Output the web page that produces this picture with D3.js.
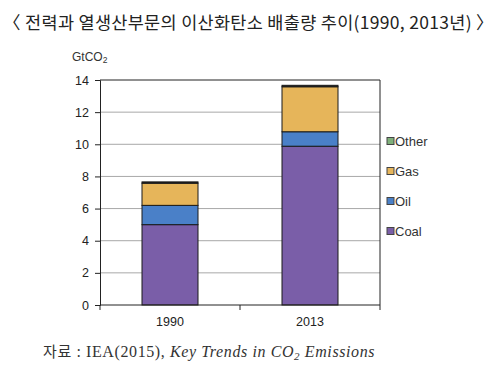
<!DOCTYPE html>
<html>
<head>
<meta charset="utf-8">
<script src="https://cdn.jsdelivr.net/npm/d3@7"></script>
<style>
  body { margin: 0; background: #fff; }
  svg { display: block; }
</style>
</head>
<body>
<div id="chart"></div>
<script>
// data
const years = ["1990", "2013"];
const series = ["Coal", "Oil", "Gas", "Other"];
const coal = [5.0, 9.88];
const oil = [1.2, 0.9];
const gas = [1.38, 2.8];
const other = [0.08, 0.09];
const yTicks = [0, 2, 4, 6, 8, 10, 12, 14];

const colors = { Coal: "#7a5ea8", Oil: "#4a80c8", Gas: "#e6b55a", Other: "#7fb07a" };

const width = 497, height = 365;
const margin = { top: 80, right: 117, bottom: 60, left: 100 };
const chartWidth = width - margin.left - margin.right;
const chartHeight = height - margin.top - margin.bottom;

const svg = d3.select("#chart").append("svg")
  .attr("width", width)
  .attr("height", height);

// title
svg.append("text")
  .attr("x", width / 2)
  .attr("y", 29)
  .attr("text-anchor", "middle")
  .attr("font-family", "'Noto Sans CJK KR', sans-serif")
  .attr("font-size", "17.5px")
  .attr("letter-spacing", "0.3px")
  .attr("fill", "#222")
  .text("〈 전력과 열생산부문의 이산화탄소 배출량 추이(1990, 2013년) 〉");

// unit label
const unit = svg.append("text")
  .attr("x", 72)
  .attr("y", 61)
  .attr("font-family", "'Liberation Sans', Arial, sans-serif")
  .attr("font-size", "12px")
  .attr("fill", "#333");
unit.append("tspan").text("GtCO");
unit.append("tspan").attr("font-size", "8.5px").attr("dy", 2).text("2");

const chart = svg.append("g")
  .attr("transform", `translate(${margin.left}, ${margin.top})`);

const xScale = d3.scaleBand().domain(years).range([0, chartWidth]).paddingInner(0.6).paddingOuter(0.3);
const yScale = d3.scaleLinear().domain([0, 14]).range([chartHeight, 0]);

// grid
chart.selectAll(".grid")
  .data(yTicks.filter(d => d > 0 && d < 14))
  .enter().append("line")
  .attr("class", "grid")
  .attr("x1", 0).attr("x2", chartWidth)
  .attr("y1", d => yScale(d)).attr("y2", d => yScale(d))
  .attr("stroke", "#a8a8a8")
  .attr("stroke-width", 1);

// stacked bars
const rows = years.map((y, i) => ({ year: y, Coal: coal[i], Oil: oil[i], Gas: gas[i], Other: other[i] }));
const stacked = d3.stack().keys(series)(rows);

chart.selectAll(".layer")
  .data(stacked)
  .enter().append("g")
  .attr("class", "layer")
  .attr("fill", d => d.key === "Other" ? "#222" : colors[d.key])
  .selectAll("rect")
  .data(d => d)
  .enter().append("rect")
  .attr("x", d => xScale(d.data.year))
  .attr("y", d => yScale(d[1]))
  .attr("width", xScale.bandwidth())
  .attr("height", d => yScale(d[0]) - yScale(d[1]))
  .attr("stroke", "#1a1a1a")
  .attr("stroke-width", 1);

// plot border (top + right)
chart.append("path")
  .attr("d", `M0,0H${chartWidth}V${chartHeight}`)
  .attr("fill", "none")
  .attr("stroke", "#222")
  .attr("stroke-width", 1);

// y axis
const yAxis = chart.append("g")
  .call(d3.axisLeft(yScale).tickValues(yTicks).tickSize(5).tickPadding(6));
yAxis.select(".domain").attr("stroke", "#222");
yAxis.selectAll(".tick line").attr("stroke", "#222");
yAxis.selectAll("text")
  .attr("font-family", "'Liberation Sans', Arial, sans-serif")
  .attr("font-size", "12.5px")
  .attr("fill", "#222");

// x axis with tick marks between categories
const xAxis = chart.append("g")
  .attr("transform", `translate(0, ${chartHeight})`);
xAxis.append("line")
  .attr("x1", 0).attr("x2", chartWidth)
  .attr("stroke", "#222");
xAxis.selectAll(".xtick")
  .data([0, chartWidth / 2, chartWidth])
  .enter().append("line")
  .attr("x1", d => d).attr("x2", d => d)
  .attr("y1", 0).attr("y2", 5)
  .attr("stroke", "#222");
xAxis.selectAll(".xlabel")
  .data(years)
  .enter().append("text")
  .attr("x", d => xScale(d) + xScale.bandwidth() / 2)
  .attr("y", 21)
  .attr("text-anchor", "middle")
  .attr("font-family", "'Liberation Sans', Arial, sans-serif")
  .attr("font-size", "12.5px")
  .attr("fill", "#222")
  .text(d => d);

// legend
const legendItems = series.slice().reverse();
const legend = svg.append("g")
  .attr("transform", "translate(387, 141)");
const item = legend.selectAll(".item")
  .data(legendItems)
  .enter().append("g")
  .attr("transform", (d, i) => `translate(0, ${i * 30})`);
item.append("rect")
  .attr("x", 0).attr("y", -3.5)
  .attr("width", 7).attr("height", 7)
  .attr("fill", d => colors[d])
  .attr("stroke", "#444")
  .attr("stroke-width", 1);
item.append("text")
  .attr("x", 8)
  .attr("y", 5)
  .attr("font-family", "'Liberation Sans', Arial, sans-serif")
  .attr("font-size", "13px")
  .attr("fill", "#333")
  .text(d => d);

// source note
const note = svg.append("text")
  .attr("x", 43)
  .attr("y", 357)
  .attr("font-family", "'Liberation Serif', 'Noto Sans CJK KR', serif")
  .attr("font-size", "16px")
  .attr("letter-spacing", "0.6px")
  .attr("fill", "#333");
note.append("tspan").attr("font-family", "'Noto Sans CJK KR', sans-serif").attr("font-size", "15px").text("자료");
note.append("tspan").text(" :  IEA(2015),  ");
note.append("tspan").attr("font-style", "italic").text("Key Trends in CO");
note.append("tspan").attr("font-style", "italic").attr("font-size", "11px").attr("dy", 3).text("2");
note.append("tspan").attr("font-style", "italic").attr("dy", -3).text(" Emissions");
</script>
</body>
</html>
